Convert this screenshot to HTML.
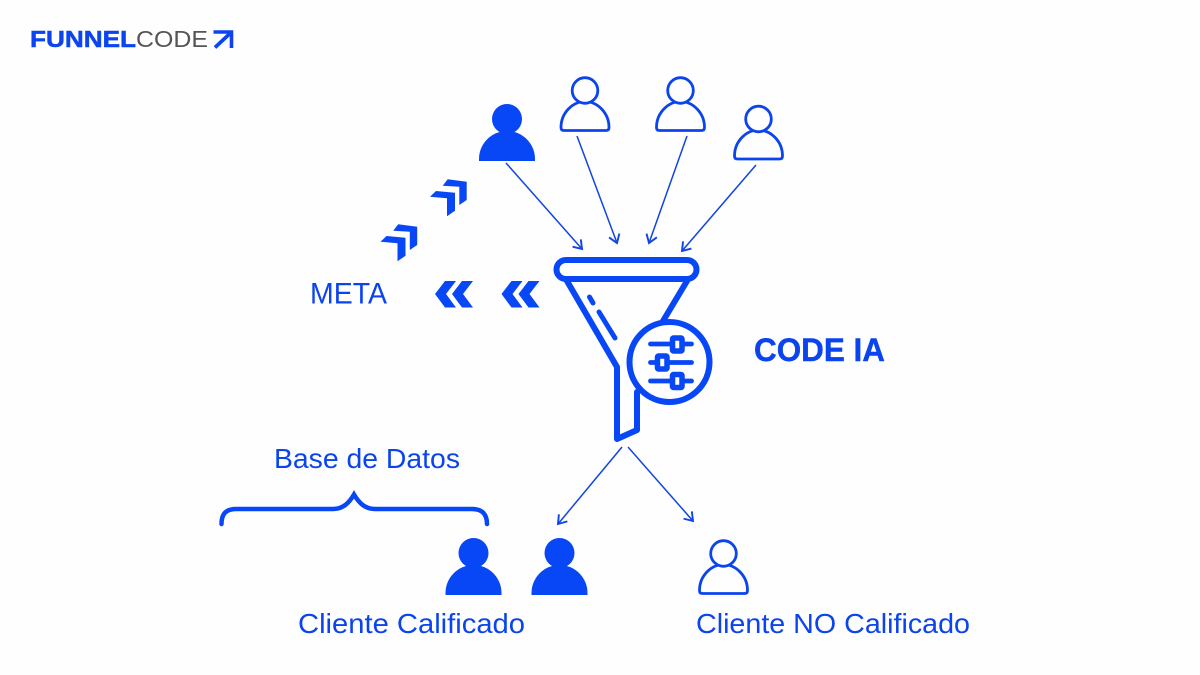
<!DOCTYPE html>
<html><head><meta charset="utf-8"><style>
html,body{margin:0;padding:0;background:#fefefe;width:1200px;height:675px;overflow:hidden}
svg{display:block}
text{font-family:"Liberation Sans",sans-serif;fill:#0b44ee}
</style></head><body>
<svg width="1200" height="675" viewBox="0 0 1200 675" xmlns="http://www.w3.org/2000/svg">
<defs>
<marker id="a" viewBox="0 0 12 16" refX="10.500" refY="8" markerWidth="12" markerHeight="16" markerUnits="userSpaceOnUse" orient="auto"><path d="M2.500 2.500L10.500 8L2.500 13.500" fill="none" stroke="#1044e4" stroke-width="1.900"/></marker>
<g id="po"><path d="M-24 10C-24 -5 -12 -16 0 -16C12 -16 24 -5 24 10Q24 13 21 13H-21Q-24 13 -24 10Z" fill="#fefefe" stroke="#0b44ee" stroke-width="2.800" stroke-linejoin="round"/><circle cx="0" cy="-27" r="12.800" fill="#fefefe" stroke="#0b44ee" stroke-width="2.800"/></g>
<g id="pf"><circle cx="0" cy="-27" r="15" fill="#0847f5"/><path d="M-28 15V13A28 28 0 0 1 28 13V15Z" fill="#0847f5"/></g>
<polygon id="cl" points="0,13 10,0 21,0 11,13 21,26.500 10,26.500" fill="#0847f5"/>
<g id="cd" fill="#0847f5"><polygon points="42.700,15.700 47.700,9.300 66.700,11.700 66.700,30 59.300,35 59.300,16.700"/><polygon points="30,26.700 36,21 55,22.700 55,40.700 47,46.300 47,28.300"/></g>
</defs>

<!-- logo -->
<text x="30" y="47" font-size="23.500" font-weight="700" textLength="106" lengthAdjust="spacingAndGlyphs" style="fill:#0b44f0;stroke:#0b44f0;stroke-width:.5">FUNNEL</text>
<text x="136" y="47" font-size="23.500" textLength="72" lengthAdjust="spacingAndGlyphs" style="fill:#555">CODE</text>
<path d="M213.500 32H231.500V48M231 32.500L215 47.500" fill="none" stroke="#0b44f0" stroke-width="3.600"/>

<!-- people top -->
<use href="#pf" x="507" y="146"/>
<use href="#po" x="585" y="117.500"/>
<use href="#po" x="680.500" y="117.500"/>
<use href="#po" x="758.500" y="146"/>

<!-- arrows -->
<g fill="none" stroke="#1044e4" stroke-width="1.500">
<path d="M506 163L582 249" marker-end="url(#a)"/>
<path d="M577 136L617 243" marker-end="url(#a)"/>
<path d="M687 136L649 243" marker-end="url(#a)"/>
<path d="M756 165L682 251" marker-end="url(#a)"/>
<path d="M622 447L558 524" marker-end="url(#a)"/>
<path d="M628 447L693 521" marker-end="url(#a)"/>
</g>

<!-- funnel -->
<g fill="none" stroke="#0847f5" stroke-width="6" stroke-linejoin="round" stroke-linecap="round">
<rect x="556.500" y="260" width="140" height="19" rx="9.500"/>
<path d="M567 281L617 367V439L637 430V392"/>
<path d="M687 281L663 321"/>
<circle cx="669.500" cy="362" r="40"/>
</g>
<g fill="none" stroke="#0847f5" stroke-width="5" stroke-linecap="round">
<path d="M589.500 297L593 303"/><path d="M599 312L615 338"/>
<path d="M650.500 344H691.500M650.500 362.500H691.500M650.500 381H691.500" stroke-width="4.800"/>
</g>
<g fill="#fefefe" stroke="#0847f5" stroke-width="5.500">
<rect x="672.500" y="338" width="9.500" height="13" rx="1"/>
<rect x="657.500" y="356" width="9.500" height="13" rx="1"/>
<rect x="672.500" y="374.500" width="9.500" height="13" rx="1"/>
</g>

<!-- chevrons -->
<use href="#cl" x="435" y="281"/><use href="#cl" x="452" y="281"/>
<use href="#cl" x="501.500" y="281"/><use href="#cl" x="518.500" y="281"/>
<use href="#cd" x="400" y="170"/>
<use href="#cd" x="350.500" y="215"/>

<!-- brace -->
<path d="M221.500 524C221.500 514 226 509 236 509H333C343 509 349 503 354 494.500C359 503 365 509 375 509H472C482 509 487 514 487 524" fill="none" stroke="#0847f5" stroke-width="4.500" stroke-linecap="round"/>

<!-- bottom people -->
<use href="#pf" x="473.500" y="580"/>
<use href="#pf" x="559.500" y="580"/>
<use href="#po" x="723.500" y="580.500"/>

<!-- labels -->
<text x="310" y="303.500" font-size="30" textLength="77" lengthAdjust="spacingAndGlyphs">META</text>
<text x="754" y="361" font-size="32" font-weight="700" textLength="131" lengthAdjust="spacingAndGlyphs" style="stroke:#0b44ee;stroke-width:.4">CODE IA</text>
<text x="274" y="468" font-size="28" textLength="186" lengthAdjust="spacingAndGlyphs">Base de Datos</text>
<text x="298" y="633" font-size="28" textLength="227" lengthAdjust="spacingAndGlyphs">Cliente Calificado</text>
<text x="696" y="633" font-size="28" textLength="274" lengthAdjust="spacingAndGlyphs">Cliente NO Calificado</text>
</svg>
</body></html>
